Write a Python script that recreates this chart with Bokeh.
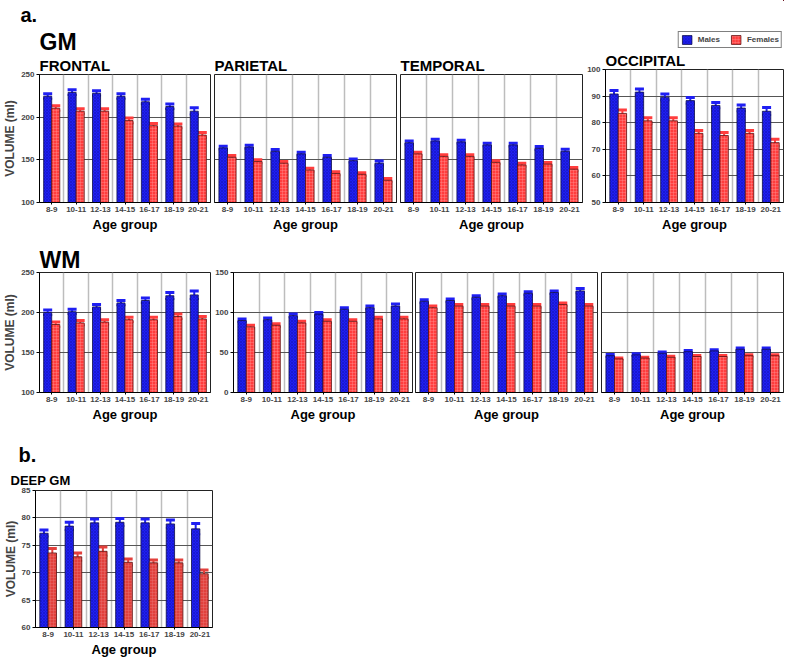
from bokeh.plotting import figure
from bokeh.models import (ColumnDataSource, Whisker, TeeHead, FixedTicker, Title,
                          Legend, LegendItem, Range1d)
from bokeh.layouts import column, row
from bokeh.transform import dodge
from bokeh.embed import file_html
from bokeh.resources import INLINE

# ---------------- data ----------------
AGE_GROUPS = ["8-9", "10-11", "12-13", "14-15", "16-17", "18-19", "20-21"]

GM_FRONTAL_M = [224.5, 229, 228, 224.5, 218, 212.5, 207]
GM_FRONTAL_M_SE = [3, 3, 3, 3, 3, 3, 4]
GM_FRONTAL_F = [210.5, 207, 207, 196, 190, 189.5, 179]
GM_FRONTAL_F_SE = [3, 3, 3, 3, 2.5, 2.5, 3]

GM_PARIETAL_M = [164, 165, 160, 157, 153, 149, 146]
GM_PARIETAL_M_SE = [2, 2, 2, 2, 2, 2, 2.5]
GM_PARIETAL_F = [153, 148, 146, 138, 134, 133, 126]
GM_PARIETAL_F_SE = [2, 2, 2, 2, 2, 2, 2]

GM_TEMPORAL_M = [170, 172, 171, 167.5, 167.5, 163.5, 160]
GM_TEMPORAL_M_SE = [2, 2, 2, 2, 2, 2, 2.5]
GM_TEMPORAL_F = [157, 154, 154, 147, 144, 145, 139]
GM_TEMPORAL_F_SE = [2, 2, 2, 2, 2, 2, 2]

GM_OCCIPITAL_M = [90.8, 91.5, 89.6, 88.3, 86.5, 85.5, 84.3]
GM_OCCIPITAL_M_SE = [1.3, 1.2, 1.2, 1.2, 1.1, 1.2, 1.4]
GM_OCCIPITAL_F = [83.5, 80.7, 80.7, 76.0, 75.2, 76.0, 72.5]
GM_OCCIPITAL_F_SE = [1.3, 1.2, 1.2, 1.1, 1.1, 1.1, 1.3]

WM_FRONTAL_M = [200, 201, 207, 212, 215, 221, 222]
WM_FRONTAL_M_SE = [3, 3, 3, 3, 3, 4, 5]
WM_FRONTAL_F = [185, 187, 188, 191, 191, 195, 192]
WM_FRONTAL_F_SE = [3, 3, 3, 3, 3, 3, 3]

WM_PARIETAL_M = [90, 91, 96, 98, 104, 106, 108]
WM_PARIETAL_M_SE = [2, 2, 2, 2, 2, 2, 2.5]
WM_PARIETAL_F = [82, 84, 87, 89, 89, 92, 92]
WM_PARIETAL_F_SE = [2, 2, 2, 2, 2, 2, 2]

WM_TEMPORAL_M = [114, 115, 119, 121, 124, 125, 127]
WM_TEMPORAL_M_SE = [2, 2, 2, 2, 2, 2, 3]
WM_TEMPORAL_F = [106, 108, 108, 108, 108, 110, 108]
WM_TEMPORAL_F_SE = [2, 2, 2, 2, 2, 2, 2]

WM_OCCIPITAL_M = [46, 47, 49, 51, 52, 54, 54]
WM_OCCIPITAL_M_SE = [1.5, 1.5, 1.5, 1.5, 1.5, 1.5, 1.5]
WM_OCCIPITAL_F = [42, 43, 44, 45, 45, 46, 46]
WM_OCCIPITAL_F_SE = [1.2, 1.2, 1.2, 1.2, 1.2, 1.2, 1.2]

DEEP_GM_M = [77.2, 78.5, 79.1, 79.2, 79.1, 78.9, 78.0]
DEEP_GM_M_SE = [0.6, 0.7, 0.7, 0.7, 0.7, 0.7, 1.0]
DEEP_GM_F = [73.6, 72.9, 73.9, 71.9, 71.8, 71.8, 69.8]
DEEP_GM_F_SE = [0.8, 0.7, 0.8, 0.6, 0.5, 0.5, 0.7]

# ---------------- style ----------------
FONT = "Liberation Sans"
BLUE = "#1f1ff2"
BLUE_HATCH = "#0a0a90"
RED = "#ff3d3d"
RED_HATCH = "#ff9a9a"
DEEP_RED = "#e2403c"
OFF = 0.165
BW = 0.33
AX = 42  # bottom border for x axis + "Age group"


def add_title(p, text, size, offset=0, standoff=0, place="above", align="left"):
    t = Title(text=text, text_font=FONT, text_font_size=f"{size}px",
              text_font_style="bold", align=align, offset=offset,
              standoff=standoff, text_color="black")
    p.add_layout(t, place)
    return t


def bar_style(red=RED, red_hatch=RED_HATCH):
    m = dict(fill_color=BLUE, line_color="#10104a", line_width=0.8,
             hatch_pattern="diagonal_cross", hatch_color=BLUE_HATCH,
             hatch_scale=3, hatch_weight=0.6, hatch_alpha=0.55)
    f = dict(fill_color=red, line_color="#5a1010", line_width=0.8,
             hatch_pattern="cross", hatch_color=red_hatch,
             hatch_scale=3, hatch_weight=0.6, hatch_alpha=0.6)
    return m, f


def make_source(male, male_se, female, female_se):
    xs = list(range(1, len(AGE_GROUPS) + 1))
    return xs, ColumnDataSource(dict(
        x=xs, m=male, f=female,
        mu=[a + b for a, b in zip(male, male_se)], ml=[a - b for a, b in zip(male, male_se)],
        fu=[a + b for a, b in zip(female, female_se)], fl=[a - b for a, b in zip(female, female_se)],
    ))


def panel(width, height, ymin, ymax, ystep, male, male_se, female, female_se,
          ylabels=True, ytitle=False, mb=(30, 1, 60, AX), red=RED, red_hatch=RED_HATCH):
    left, right, top, bottom = mb
    p = figure(width=width, height=height, output_backend="svg", toolbar_location=None,
               x_range=Range1d(0.5, 7.5), y_range=Range1d(ymin, ymax), title=None,
               min_border_left=left, min_border_right=right,
               min_border_top=top, min_border_bottom=bottom)
    xs, src = make_source(male, male_se, female, female_se)
    ms, fs = bar_style(red, red_hatch)
    rm = p.vbar(x=dodge("x", -OFF), top="m", bottom=ymin, width=BW, source=src, **ms)
    rf = p.vbar(x=dodge("x", OFF), top="f", bottom=ymin, width=BW, source=src, **fs)
    for base, up, lo, col in [(dodge("x", -OFF), "mu", "ml", BLUE), (dodge("x", OFF), "fu", "fl", red)]:
        w = Whisker(base=base, upper=up, lower=lo, source=src, line_color=col, line_width=2,
                    upper_head=TeeHead(size=9, line_color=col, line_width=3),
                    lower_head=TeeHead(size=9, line_color=col, line_width=2))
        p.add_layout(w)

    p.outline_line_color = "#222222"
    p.outline_line_width = 1
    p.background_fill_color = "white"
    p.border_fill_color = "white"

    p.xgrid.ticker = FixedTicker(ticks=[i + 0.5 for i in xs[:-1]])
    p.xgrid.grid_line_color = "#bdbdbd"
    p.xgrid.grid_line_width = 1.5
    yt = list(range(ymin, ymax + 1, ystep))
    p.ygrid.ticker = FixedTicker(ticks=yt)
    p.ygrid.grid_line_color = "#555555"
    p.ygrid.grid_line_width = 1

    xa = p.xaxis[0]
    xa.ticker = FixedTicker(ticks=xs)
    xa.major_label_overrides = {i: lab for i, lab in zip(xs, AGE_GROUPS)}
    xa.major_label_text_font = FONT
    xa.major_label_text_font_size = "8px"
    xa.major_label_text_font_style = "bold"
    xa.major_label_standoff = 2
    xa.major_tick_in = 0
    xa.major_tick_out = 2
    xa.minor_tick_line_color = None
    xa.axis_line_color = "black"
    add_title(p, "Age group", 13, standoff=0, place="below", align="center")

    ya = p.yaxis[0]
    if ylabels:
        ya.ticker = FixedTicker(ticks=yt)
        ya.major_label_text_font = FONT
        ya.major_label_text_font_size = "8px"
        ya.major_label_text_font_style = "bold"
        ya.major_label_standoff = 2
        ya.major_tick_in = 0
        ya.major_tick_out = 3
        ya.minor_tick_line_color = None
        ya.axis_line_color = "black"
        if ytitle:
            ya.axis_label = "VOLUME (ml)"
            ya.axis_label_text_font = FONT
            ya.axis_label_text_font_size = "12px"
            ya.axis_label_text_font_style = "bold"
            ya.axis_label_standoff = 1
    else:
        ya.visible = False
    return p, rm, rf


# ---------------- row 1: GM ----------------
T1, F1 = 68, 134
H1 = T1 + F1 + AX
f1, _, _ = panel(211, H1, 100, 250, 50, GM_FRONTAL_M, GM_FRONTAL_M_SE, GM_FRONTAL_F, GM_FRONTAL_F_SE,
                 ylabels=True, ytitle=True, mb=(29, 1, T1, AX))
add_title(f1, "FRONTAL", 15, standoff=1)
add_title(f1, "GM", 23, standoff=0)
add_title(f1, "a.", 20, offset=-19, standoff=2)

f2, _, _ = panel(186, H1, 100, 250, 50, GM_PARIETAL_M, GM_PARIETAL_M_SE, GM_PARIETAL_F, GM_PARIETAL_F_SE,
                 ylabels=False, mb=(3, 1, T1, AX))
add_title(f2, "PARIETAL", 15, standoff=1)

f3, _, _ = panel(187, H1, 100, 250, 50, GM_TEMPORAL_M, GM_TEMPORAL_M_SE, GM_TEMPORAL_F, GM_TEMPORAL_F_SE,
                 ylabels=False, mb=(3, 2, T1, AX))
add_title(f3, "TEMPORAL", 15, standoff=1)

LG = 49
f4, _, _ = panel(200, H1 - LG, 50, 100, 10, GM_OCCIPITAL_M, GM_OCCIPITAL_M_SE, GM_OCCIPITAL_F, GM_OCCIPITAL_F_SE,
                 ylabels=True, mb=(19, 1, T1 - LG, AX))
add_title(f4, "OCCIPITAL", 15, standoff=1)

# legend strip above the occipital panel (its bars lie outside the strip's ranges)
lg = figure(width=200, height=LG, output_backend="svg", toolbar_location=None, title=None,
            x_range=Range1d(-2, -1), y_range=Range1d(-2, -1),
            min_border_left=0, min_border_right=0, min_border_top=0, min_border_bottom=0)
lg.axis.visible = False
lg.grid.visible = False
lg.outline_line_color = None
_, lsrc = make_source(GM_OCCIPITAL_M, GM_OCCIPITAL_M_SE, GM_OCCIPITAL_F, GM_OCCIPITAL_F_SE)
ms_, fs_ = bar_style()
lm = lg.vbar(x="x", top="m", bottom=50, width=BW, source=lsrc, **ms_)
lf = lg.vbar(x="x", top="f", bottom=50, width=BW, source=lsrc, **fs_)
legend = Legend(items=[LegendItem(label="Males", renderers=[lm], index=0),
                       LegendItem(label="Females", renderers=[lf], index=0)],
                orientation="horizontal", location="bottom_right",
                label_text_font=FONT, label_text_font_size="8px", label_text_font_style="bold",
                border_line_color="black", border_line_width=1, glyph_width=12, glyph_height=11,
                padding=2, spacing=10, margin=1, label_standoff=5, label_height=11,
                background_fill_color="white")
lg.add_layout(legend)

# ---------------- row 2: WM ----------------
T2, F2 = 22, 126
H2 = T2 + F2 + AX
w1, _, _ = panel(212, H2, 100, 250, 50, WM_FRONTAL_M, WM_FRONTAL_M_SE, WM_FRONTAL_F, WM_FRONTAL_F_SE,
                 ylabels=True, ytitle=True, mb=(29, 2, T2, AX))
add_title(w1, "WM", 23, standoff=0)
w2, _, _ = panel(201, H2, 0, 150, 50, WM_PARIETAL_M, WM_PARIETAL_M_SE, WM_PARIETAL_F, WM_PARIETAL_F_SE,
                 ylabels=True, mb=(18, 1, T2, AX))
w3, _, _ = panel(185, H2, 0, 150, 50, WM_TEMPORAL_M, WM_TEMPORAL_M_SE, WM_TEMPORAL_F, WM_TEMPORAL_F_SE,
                 ylabels=False, mb=(2, 1, T2, AX))
w4, _, _ = panel(186, H2, 0, 150, 50, WM_OCCIPITAL_M, WM_OCCIPITAL_M_SE, WM_OCCIPITAL_F, WM_OCCIPITAL_F_SE,
                 ylabels=False, mb=(3, 1, T2, AX))

# ---------------- row 3: deep GM ----------------
T3, F3 = 56, 137
H3 = T3 + F3 + AX
d1, _, _ = panel(214, H3, 60, 85, 5, DEEP_GM_M, DEEP_GM_M_SE, DEEP_GM_F, DEEP_GM_F_SE,
                 ylabels=True, ytitle=True, mb=(27, 2, T3, AX), red=DEEP_RED, red_hatch="#ec7b78")
add_title(d1, "DEEP GM", 13, offset=-25, standoff=5)
add_title(d1, "b.", 20, offset=-17, standoff=5)

layout = column(row(f1, f2, f3, column(lg, f4, spacing=0), spacing=0),
                row(w1, w2, w3, w4, spacing=0),
                row(d1, spacing=0), spacing=0)

open("out.html", "w").write(file_html(layout, INLINE))
